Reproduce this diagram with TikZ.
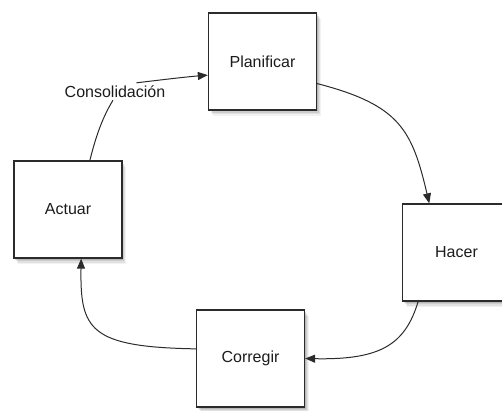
\documentclass[tikz,border=0pt]{standalone}
\usepackage{fontspec}
\setmainfont{Liberation Sans}
\usetikzlibrary{arrows.meta,shadows}
\definecolor{inkline}{HTML}{2B2B2B}
\definecolor{inktext}{HTML}{1C1C1C}
\tikzset{
  softshadow/.style={
    general shadow={fill=black,opacity=.10,shadow xshift=1pt,shadow yshift=-1.5pt},
    general shadow={fill=black,opacity=.09,shadow xshift=2pt,shadow yshift=-3pt},
    general shadow={fill=black,opacity=.07,shadow xshift=3pt,shadow yshift=-4.5pt},
    general shadow={fill=black,opacity=.05,shadow xshift=4pt,shadow yshift=-6pt}},
  stagebox/.style={draw=inkline,line width=1.3pt,fill=white,softshadow,
    minimum width=108pt,minimum height=97pt,inner sep=0pt,
    text=inktext,font=\fontsize{16}{19}\selectfont},
  flowlabel/.style={text=inktext,font=\fontsize{16}{19}\selectfont,inner sep=2.5pt},
  flow/.style={draw=inkline,line width=1pt,
    -{Triangle[length=10pt,width=8pt]}},
  flowplain/.style={draw=inkline,line width=1pt}
}
\begin{document}
\begin{tikzpicture}[x=1pt,y=-1pt]
  \useasboundingbox (0,0) rectangle (502,411);
  \clip (0,0) rectangle (502,411);

  % the four stages of the cycle
  \node[stagebox] (plan)  at (262.5,61.5)  {Planificar};
  \node[stagebox] (hacer) at (456.5,252.5) {Hacer};
  \node[stagebox] (corr)  at (250.5,358.5) {Corregir};
  \node[stagebox] (act)   at (68,209.5)    {Actuar};

  % label sitting on the closing arc
  \node[flowlabel] (cons) at (115,91.5) {Consolidación};

  % Actuar -> Consolidación -> Planificar
  \draw[flowplain] (act.66) .. controls (95,140) and (101,120) .. (cons.257);
  \draw[flow] (cons.22) .. controls (160,80) and (185,77) .. (plan.194);

  % Planificar -> Hacer
  \draw[flow] (plan.338) .. controls (400,105) and (412,130) .. (hacer.119);

  % Hacer -> Corregir
  \draw[flow] (hacer.232) .. controls (405,345) and (380,360) .. (corr.east);

  % Corregir -> Actuar
  \draw[flow] (corr.170) .. controls (90,347) and (80,330) .. (act.285);
\end{tikzpicture}
\end{document}
